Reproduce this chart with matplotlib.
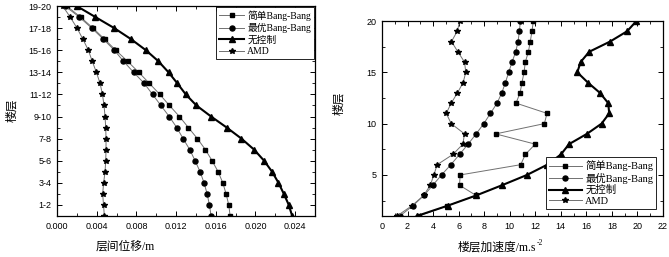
import matplotlib
matplotlib.use('Agg')
import matplotlib.pyplot as plt
from matplotlib.ticker import MultipleLocator, FormatStrFormatter
import numpy as np

# %% data
# left: inter-storey drift, storeys 0..19 (labels 1-2 ... 19-20)
story_drift = np.arange(20)
drift_labels = ['1-2', '3-4', '5-6', '7-8', '9-10', '11-12', '13-14', '15-16', '17-18', '19-20']
drift_simple = [0.01745, 0.01731, 0.01704, 0.01671, 0.01624, 0.01563, 0.01496, 0.01415, 0.01324, 0.01234,
                0.01133, 0.01036, 0.00931, 0.00824, 0.00711, 0.00592, 0.00479, 0.00363, 0.00237, 0.00097]
drift_optimal = [0.01553, 0.01536, 0.01513, 0.01482, 0.01442, 0.01392, 0.01338, 0.01271, 0.01207, 0.01131,
                 0.01047, 0.00963, 0.00879, 0.00772, 0.00670, 0.00578, 0.00467, 0.00350, 0.00225, 0.00081]
drift_none = [0.02370, 0.02336, 0.02286, 0.02232, 0.02168, 0.02087, 0.01987, 0.01859, 0.01711, 0.01553,
              0.01405, 0.01298, 0.01213, 0.01124, 0.01022, 0.00896, 0.00746, 0.00577, 0.00387, 0.00198]
drift_amd = [0.00477, 0.00469, 0.00460, 0.00470, 0.00484, 0.00491, 0.00494, 0.00494, 0.00491, 0.00484,
             0.00474, 0.00458, 0.00434, 0.00397, 0.00355, 0.00316, 0.00261, 0.00202, 0.00133, 0.00057]

# right: floor acceleration, floors 1..20
floor_acc = np.arange(1, 21)
acc_simple = [2.9, 5.1, 7.37, 6.07, 6.12, 10.86, 11.22, 12.0, 8.9, 12.71,
              12.92, 10.49, 10.81, 10.96, 11.12, 11.22, 11.46, 11.61, 11.74, 11.85]
acc_optimal = [1.4, 2.42, 3.28, 3.98, 4.66, 5.39, 6.07, 6.74, 7.37, 7.97,
               8.49, 9.01, 9.38, 9.66, 9.92, 10.18, 10.47, 10.65, 10.76, 10.83]
acc_none = [2.73, 5.13, 7.37, 9.4, 11.35, 12.94, 14.01, 14.64, 16.04, 17.19,
            17.79, 17.71, 17.06, 16.12, 15.29, 15.55, 16.22, 17.86, 19.19, 19.92]
acc_amd = [1.17, 2.34, 3.26, 3.78, 4.06, 4.32, 5.55, 6.33, 6.46, 5.42,
           5.03, 5.42, 5.91, 6.35, 6.56, 6.46, 5.94, 5.44, 5.89, 6.09]

names = ['简单Bang-Bang', '最优Bang-Bang', '无控制', 'AMD']

# %% style
plt.rcParams['font.family'] = ['Liberation Sans', 'Noto Sans CJK SC']
serif = ['Liberation Serif', 'Noto Sans CJK SC']
thin = dict(color='#707070', lw=0.7, mfc='black', mec='black')
thick = dict(color='black', lw=1.5, mfc='black', mec='black')

fig = plt.figure(figsize=(6.69, 2.57), dpi=100)
W, H = 669, 257
ax1 = fig.add_axes([57 / W, 1 - 216 / H, (315 - 57) / W, (216 - 6) / H])
ax2 = fig.add_axes([382 / W, 1 - 216 / H, (663 - 382) / W, (216 - 21) / H])

# %% left chart
ax1.plot(drift_simple, story_drift, marker='s', ms=3.4, **thin, label=names[0])
ax1.plot(drift_optimal, story_drift, marker='o', ms=3.6, **thin, label=names[1])
ax1.plot(drift_none, story_drift, marker='^', ms=3.8, **thick, label=names[2])
ax1.plot(drift_amd, story_drift, marker='*', ms=4.3, **thin, label=names[3])
ax1.set_xlim(0, 0.026)
ax1.set_ylim(0, 19)
ax1.xaxis.set_major_locator(MultipleLocator(0.004))
ax1.xaxis.set_minor_locator(MultipleLocator(0.002))
ax1.xaxis.set_major_formatter(FormatStrFormatter('%.3f'))
ax1.set_yticks(np.arange(1, 20, 2))
ax1.set_yticklabels(drift_labels)
ax1.yaxis.set_minor_locator(MultipleLocator(1))
leg1 = ax1.legend(loc='upper right', prop={'family': serif, 'size': 7},
                  fancybox=False, edgecolor='black', framealpha=1, borderaxespad=0.1,
                  handlelength=2.6, labelspacing=0.25, borderpad=0.3, handletextpad=0.3)
leg1.get_frame().set_linewidth(0.6)

# %% right chart
ax2.plot(acc_simple, floor_acc, marker='s', ms=3.4, **thin, label=names[0])
ax2.plot(acc_optimal, floor_acc, marker='o', ms=3.6, **thin, label=names[1])
ax2.plot(acc_none, floor_acc, marker='^', ms=3.8, **thick, label=names[2])
ax2.plot(acc_amd, floor_acc, marker='*', ms=4.3, **thin, label=names[3])
ax2.set_xlim(0, 22)
ax2.set_ylim(1, 20)
ax2.xaxis.set_major_locator(MultipleLocator(2))
ax2.xaxis.set_minor_locator(MultipleLocator(1))
ax2.yaxis.set_major_locator(MultipleLocator(5))
ax2.yaxis.set_minor_locator(MultipleLocator(2.5))
leg2 = ax2.legend(loc='lower right', bbox_to_anchor=(0.995, 0.01), prop={'family': serif, 'size': 7.5},
                  fancybox=False, edgecolor='black', framealpha=1,
                  handlelength=3.2, labelspacing=0.12, borderpad=0.3, handletextpad=0.3)
leg2.get_frame().set_linewidth(0.6)

for ax in (ax1, ax2):
    ax.tick_params(which='both', direction='in', top=True, right=True, labelsize=6.5, pad=4)
    ax.tick_params(which='major', length=3.5, width=0.7)
    ax.tick_params(which='minor', length=2, width=0.6)
    for s in ax.spines.values():
        s.set_linewidth(0.9)

# axis titles
fig.text(125 / W, 1 - 247 / H, '层间位移/m', ha='center', va='center', family=serif, fontsize=8.5)
fig.text(12 / W, 1 - 110 / H, '楼层', ha='center', va='center', rotation=90, family=serif, fontsize=8.5)
fig.text(536 / W, 1 - 248 / H, '楼层加速度/m.s', ha='right', va='center', family=serif, fontsize=8.5)
fig.text(537 / W, 1 - 243 / H, '-2', ha='left', va='center', family=serif, fontsize=5.5)
fig.text(339 / W, 1 - 103 / H, '楼层', ha='center', va='center', rotation=90, family=serif, fontsize=8.5)

fig.savefig('out.png', dpi=100)
